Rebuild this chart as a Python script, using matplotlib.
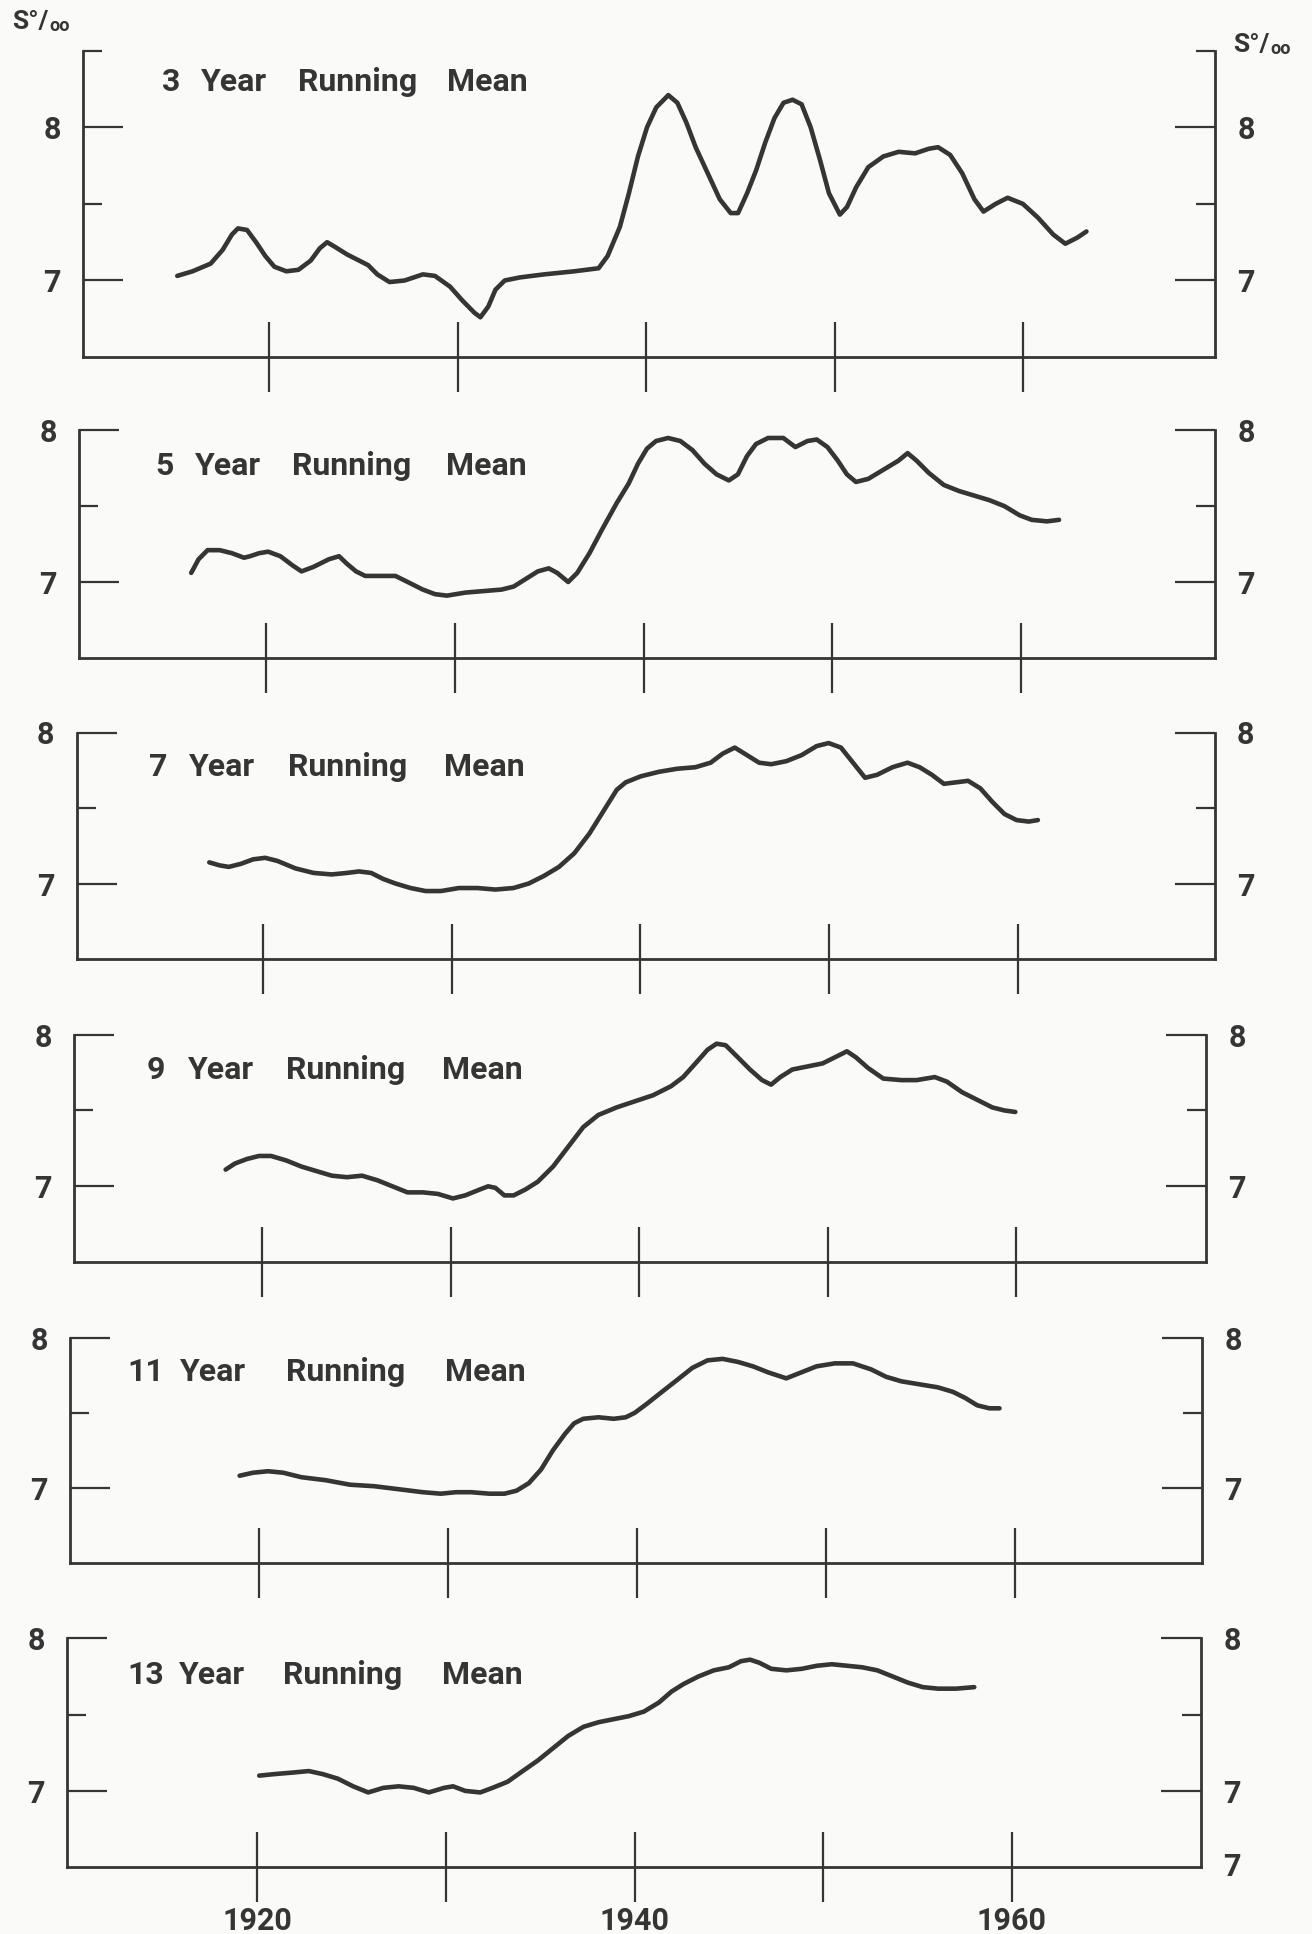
import matplotlib.pyplot as plt

plt.rcParams['font.family'] = ['Roboto', 'DejaVu Sans']
plt.rcParams['font.weight'] = 'bold'

INK = '#353535'
PAPER = '#fafaf8'
W, H = 1312, 1934  # sheet size in pixels

# salinity (S per mille), running means
years_3 = [1915.11, 1915.92, 1916.88, 1917.52, 1918.01, 1918.33, 1918.81, 1919.29, 1919.78, 1920.26,
           1920.90, 1921.54, 1922.19, 1922.67, 1923.06, 1923.47, 1924.12, 1924.76, 1925.24, 1925.72,
           1926.37, 1927.17, 1928.14, 1928.78, 1929.58, 1930.23, 1930.87, 1931.19, 1931.61, 1931.99,
           1932.48, 1933.28, 1934.57, 1936.17, 1937.46, 1937.94, 1938.59, 1939.07, 1939.55, 1940.03,
           1940.52, 1941.16, 1941.64, 1942.12, 1942.61, 1943.25, 1943.89, 1944.47, 1944.86, 1945.34,
           1945.82, 1946.30, 1946.79, 1947.27, 1947.75, 1948.23, 1948.71, 1949.20, 1949.68, 1950.26,
           1950.64, 1951.13, 1951.77, 1952.57, 1953.38, 1954.25, 1954.98, 1955.47, 1956.11, 1956.75,
           1957.40, 1957.88, 1958.52, 1959.16, 1959.97, 1960.77, 1961.58, 1962.22, 1962.86, 1963.34]
sal_3 = [7.03, 7.06, 7.11, 7.20, 7.30, 7.34, 7.33, 7.25, 7.16, 7.09,
         7.06, 7.07, 7.13, 7.21, 7.25, 7.22, 7.17, 7.13, 7.10, 7.04,
         6.99, 7.00, 7.04, 7.03, 6.96, 6.87, 6.79, 6.76, 6.83, 6.94,
         7.00, 7.02, 7.04, 7.06, 7.08, 7.16, 7.35, 7.57, 7.81, 8.00,
         8.13, 8.21, 8.16, 8.03, 7.87, 7.70, 7.53, 7.44, 7.44, 7.57,
         7.72, 7.90, 8.06, 8.16, 8.18, 8.15, 8.00, 7.79, 7.57, 7.43,
         7.48, 7.61, 7.74, 7.81, 7.84, 7.83, 7.86, 7.87, 7.82, 7.70,
         7.53, 7.45, 7.50, 7.54, 7.50, 7.41, 7.30, 7.24, 7.28, 7.32]

years_5 = [1916.01, 1916.40, 1916.88, 1917.52, 1918.17, 1918.81, 1919.13, 1919.61, 1920.09, 1920.74,
           1921.38, 1921.86, 1922.50, 1923.31, 1923.85, 1924.27, 1924.75, 1925.24, 1926.04, 1926.84,
           1927.49, 1928.29, 1928.93, 1929.57, 1930.54, 1931.50, 1932.47, 1933.11, 1933.75, 1934.39,
           1934.97, 1935.42, 1936.00, 1936.48, 1937.13, 1937.77, 1938.57, 1939.21, 1939.70, 1940.18,
           1940.66, 1941.30, 1941.95, 1942.59, 1943.23, 1943.87, 1944.52, 1945.00, 1945.48, 1945.96,
           1946.60, 1947.41, 1948.05, 1948.69, 1949.18, 1949.75, 1950.30, 1950.78, 1951.26, 1951.91,
           1952.71, 1953.51, 1954.00, 1954.48, 1955.12, 1955.92, 1956.73, 1957.53, 1958.33, 1959.14,
           1959.94, 1960.58, 1961.39, 1962.03]
sal_5 = [7.06, 7.15, 7.21, 7.21, 7.19, 7.16, 7.17, 7.19, 7.20, 7.17,
         7.11, 7.07, 7.10, 7.15, 7.17, 7.12, 7.07, 7.04, 7.04, 7.04,
         7.00, 6.95, 6.92, 6.91, 6.93, 6.94, 6.95, 6.97, 7.02, 7.07,
         7.09, 7.06, 7.00, 7.06, 7.19, 7.34, 7.52, 7.65, 7.78, 7.88,
         7.93, 7.95, 7.93, 7.87, 7.78, 7.71, 7.67, 7.71, 7.83, 7.91,
         7.95, 7.95, 7.89, 7.93, 7.94, 7.89, 7.80, 7.71, 7.66, 7.68,
         7.74, 7.80, 7.85, 7.80, 7.72, 7.64, 7.60, 7.57, 7.54, 7.50,
         7.44, 7.41, 7.40, 7.41]

years_7 = [1917.14, 1917.69, 1918.17, 1918.81, 1919.46, 1920.10, 1920.74, 1921.71, 1922.67, 1923.63,
           1924.44, 1925.08, 1925.72, 1926.36, 1927.01, 1927.81, 1928.61, 1929.42, 1930.38, 1931.35,
           1932.31, 1933.27, 1934.08, 1934.88, 1935.68, 1936.49, 1937.29, 1938.09, 1938.74, 1939.22,
           1940.02, 1940.99, 1941.95, 1942.91, 1943.72, 1944.36, 1945.00, 1945.65, 1946.29, 1946.93,
           1947.73, 1948.54, 1949.34, 1949.98, 1950.63, 1951.27, 1951.91, 1952.55, 1953.36, 1954.16,
           1954.80, 1955.45, 1956.09, 1956.73, 1957.37, 1958.02, 1958.66, 1959.30, 1959.94, 1960.59,
           1961.07]
sal_7 = [7.14, 7.12, 7.11, 7.13, 7.16, 7.17, 7.15, 7.10, 7.07, 7.06,
         7.07, 7.08, 7.07, 7.03, 7.00, 6.97, 6.95, 6.95, 6.97, 6.97,
         6.96, 6.97, 7.00, 7.05, 7.11, 7.20, 7.33, 7.49, 7.62, 7.67,
         7.71, 7.74, 7.76, 7.77, 7.80, 7.86, 7.90, 7.85, 7.80, 7.79,
         7.81, 7.85, 7.91, 7.93, 7.90, 7.80, 7.70, 7.72, 7.77, 7.80,
         7.77, 7.72, 7.66, 7.67, 7.68, 7.63, 7.54, 7.46, 7.42, 7.41,
         7.42]

years_9 = [1918.07, 1918.56, 1919.20, 1919.84, 1920.48, 1921.29, 1922.09, 1922.89, 1923.70, 1924.50,
           1925.30, 1926.11, 1926.91, 1927.71, 1928.52, 1929.32, 1930.12, 1930.77, 1931.57, 1931.99,
           1932.37, 1932.85, 1933.34, 1933.98, 1934.62, 1935.43, 1936.23, 1937.03, 1937.83, 1938.80,
           1939.76, 1940.73, 1941.69, 1942.33, 1942.98, 1943.62, 1944.10, 1944.58, 1945.23, 1945.87,
           1946.51, 1946.99, 1947.48, 1948.12, 1948.92, 1949.72, 1950.37, 1951.01, 1951.49, 1952.13,
           1952.94, 1953.90, 1954.71, 1955.67, 1956.31, 1957.12, 1957.92, 1958.72, 1959.36, 1959.94]
sal_9 = [7.11, 7.15, 7.18, 7.20, 7.20, 7.17, 7.13, 7.10, 7.07, 7.06,
         7.07, 7.04, 7.00, 6.96, 6.96, 6.95, 6.92, 6.94, 6.98, 7.00,
         6.99, 6.94, 6.94, 6.98, 7.03, 7.13, 7.26, 7.39, 7.47, 7.52,
         7.56, 7.60, 7.66, 7.72, 7.81, 7.90, 7.94, 7.93, 7.85, 7.77,
         7.70, 7.67, 7.72, 7.77, 7.79, 7.81, 7.85, 7.89, 7.85, 7.78,
         7.71, 7.70, 7.70, 7.72, 7.69, 7.62, 7.57, 7.52, 7.50, 7.49]

years_11 = [1918.97, 1919.68, 1920.48, 1921.28, 1922.24, 1923.53, 1924.81, 1926.09, 1927.38, 1928.66,
            1929.62, 1930.43, 1931.23, 1932.19, 1932.99, 1933.63, 1934.28, 1934.92, 1935.56, 1936.20,
            1936.68, 1937.16, 1937.97, 1938.77, 1939.41, 1939.89, 1940.53, 1941.33, 1942.14, 1942.94,
            1943.74, 1944.54, 1945.34, 1946.15, 1946.95, 1947.91, 1948.71, 1949.51, 1950.48, 1951.44,
            1952.40, 1953.20, 1954.01, 1954.97, 1955.93, 1956.73, 1957.37, 1958.02, 1958.66, 1959.20]
sal_11 = [7.08, 7.10, 7.11, 7.10, 7.07, 7.05, 7.02, 7.01, 6.99, 6.97,
          6.96, 6.97, 6.97, 6.96, 6.96, 6.98, 7.03, 7.12, 7.25, 7.36,
          7.43, 7.46, 7.47, 7.46, 7.47, 7.50, 7.56, 7.64, 7.72, 7.80,
          7.85, 7.86, 7.84, 7.81, 7.77, 7.73, 7.77, 7.81, 7.83, 7.83,
          7.79, 7.74, 7.71, 7.69, 7.67, 7.64, 7.60, 7.55, 7.53, 7.53]

years_13 = [1920.10, 1920.90, 1921.86, 1922.73, 1923.47, 1924.27, 1925.08, 1925.88, 1926.68, 1927.49,
            1928.29, 1929.09, 1929.90, 1930.38, 1931.02, 1931.82, 1932.47, 1933.27, 1934.07, 1934.88,
            1935.68, 1936.48, 1937.29, 1938.09, 1938.89, 1939.70, 1940.50, 1941.30, 1941.95, 1942.59,
            1943.39, 1944.20, 1945.00, 1945.64, 1946.12, 1946.61, 1947.25, 1948.05, 1948.86, 1949.66,
            1950.46, 1951.27, 1952.07, 1952.87, 1953.68, 1954.48, 1955.28, 1956.09, 1957.05, 1958.01]
sal_13 = [7.10, 7.11, 7.12, 7.13, 7.11, 7.08, 7.03, 6.99, 7.02, 7.03,
          7.02, 6.99, 7.02, 7.03, 7.00, 6.99, 7.02, 7.06, 7.13, 7.20,
          7.28, 7.36, 7.42, 7.45, 7.47, 7.49, 7.52, 7.58, 7.65, 7.70,
          7.75, 7.79, 7.81, 7.85, 7.86, 7.84, 7.80, 7.79, 7.80, 7.82,
          7.83, 7.82, 7.81, 7.79, 7.75, 7.71, 7.68, 7.67, 7.67, 7.68]

window = ["3", "5", "7", "9", "11", "13"]
series = [(years_3, sal_3), (years_5, sal_5), (years_7, sal_7),
          (years_9, sal_9), (years_11, sal_11), (years_13, sal_13)]

tick_years = [1920, 1930, 1940, 1950, 1960]
year_labels = ["1920", "", "1940", "", "1960"]

# frame of each panel on the sheet (px): left, right, y of 8, y of 7, x limits, top value
frames = [
    (83, 1215, 127.3, 280.5, 1910.11, 1970.16, 8.5),
    (79, 1215, 430.4, 582.0, 1910.06, 1970.30, 8.0),
    (76.5, 1214.6, 732.5, 883.5, 1910.10, 1970.44, 8.0),
    (74, 1206, 1034.6, 1186.3, 1910.03, 1970.05, 8.0),
    (70, 1202, 1337.9, 1487.7, 1909.99, 1969.92, 8.0),
    (67, 1201, 1638.3, 1790.9, 1909.91, 1970.03, 8.0),
]
# title words: left x of number, "Year", "Running", "Mean" and centre y (px)
title_pos = [
    (162, 201, 298, 447, 82),
    (155, 195, 292, 446, 466),
    (149, 189, 288, 444, 767),
    (147, 188, 286, 442, 1070),
    (127, 180, 286, 445, 1372),
    (127, 179, 283, 442, 1675),
]

fig = plt.figure(figsize=(W / 100, H / 100), dpi=100, facecolor=PAPER)

for i, (years, sal) in enumerate(series):
    L, R, y8, y7, x0, x1, top = frames[i]
    unit = y7 - y8
    ybot = y7 + 0.5 * unit
    ytop = y8 - (top - 8) * unit
    ax = fig.add_axes([L / W, 1 - ybot / H, (R - L) / W, (ybot - ytop) / H])
    ax.set_facecolor('none')

    ax.plot(years, sal, color=INK, lw=3.3, solid_joinstyle='round',
            solid_capstyle='round', clip_on=False)
    ax.set_xlim(x0, x1)
    ax.set_ylim(6.5, top)

    ax.spines['top'].set_visible(False)
    for s in ('left', 'right', 'bottom'):
        ax.spines[s].set_linewidth(2.0)
        ax.spines[s].set_color(INK)
        ax.spines[s].set_capstyle('projecting')

    # y ticks on both sides, pointing inwards
    ax.set_yticks([7, 8])
    ax.set_yticklabels(['7', '8'])
    ax.set_yticks([7.5, 8.5] if top > 8 else [7.5], minor=True)
    ax.tick_params(axis='y', which='major', direction='in', length=29, width=1.6,
                   color=INK, left=True, right=True, labelleft=True, labelright=True,
                   labelsize=22, labelcolor=INK, pad=16)
    ax.tick_params(axis='y', which='minor', direction='in', length=14, width=1.6,
                   color=INK, left=True, right=True)

    # year ticks cross the bottom line
    ax.set_xticks(tick_years)
    ax.tick_params(axis='x', which='major', direction='inout', length=50, width=1.6,
                   color=INK, labelsize=22, labelcolor=INK, pad=3)
    ax.tick_params(axis='x', which='minor', bottom=False)
    if i == len(series) - 1:
        ax.set_xticklabels(year_labels)
        ax.annotate('7', xy=(1, 6.5), xycoords=('axes fraction', 'data'),
                    xytext=(16, 0), textcoords='offset points', ha='left',
                    va='center', fontsize=22, color=INK)
    else:
        ax.tick_params(axis='x', labelbottom=False)

    xn, xy_, xr, xm, ty = title_pos[i]
    for word, wx in zip([window[i], "Year", "Running", "Mean"], [xn, xy_, xr, xm]):
        fig.text(wx / W, 1 - ty / H, word, fontsize=23, color=INK, ha='left', va='center')

# unit label S°/oo on both top corners
for sx, sy in [(12, 22), (1233, 45)]:
    fig.text(sx / W, 1 - sy / H, "S°/", fontsize=19, color=INK, ha='left', va='center')
    fig.text((sx + 37) / W, 1 - (sy + 4) / H, "oo", fontsize=13, color=INK,
             ha='left', va='center')

fig.savefig("out.png", dpi=100, facecolor=PAPER)
